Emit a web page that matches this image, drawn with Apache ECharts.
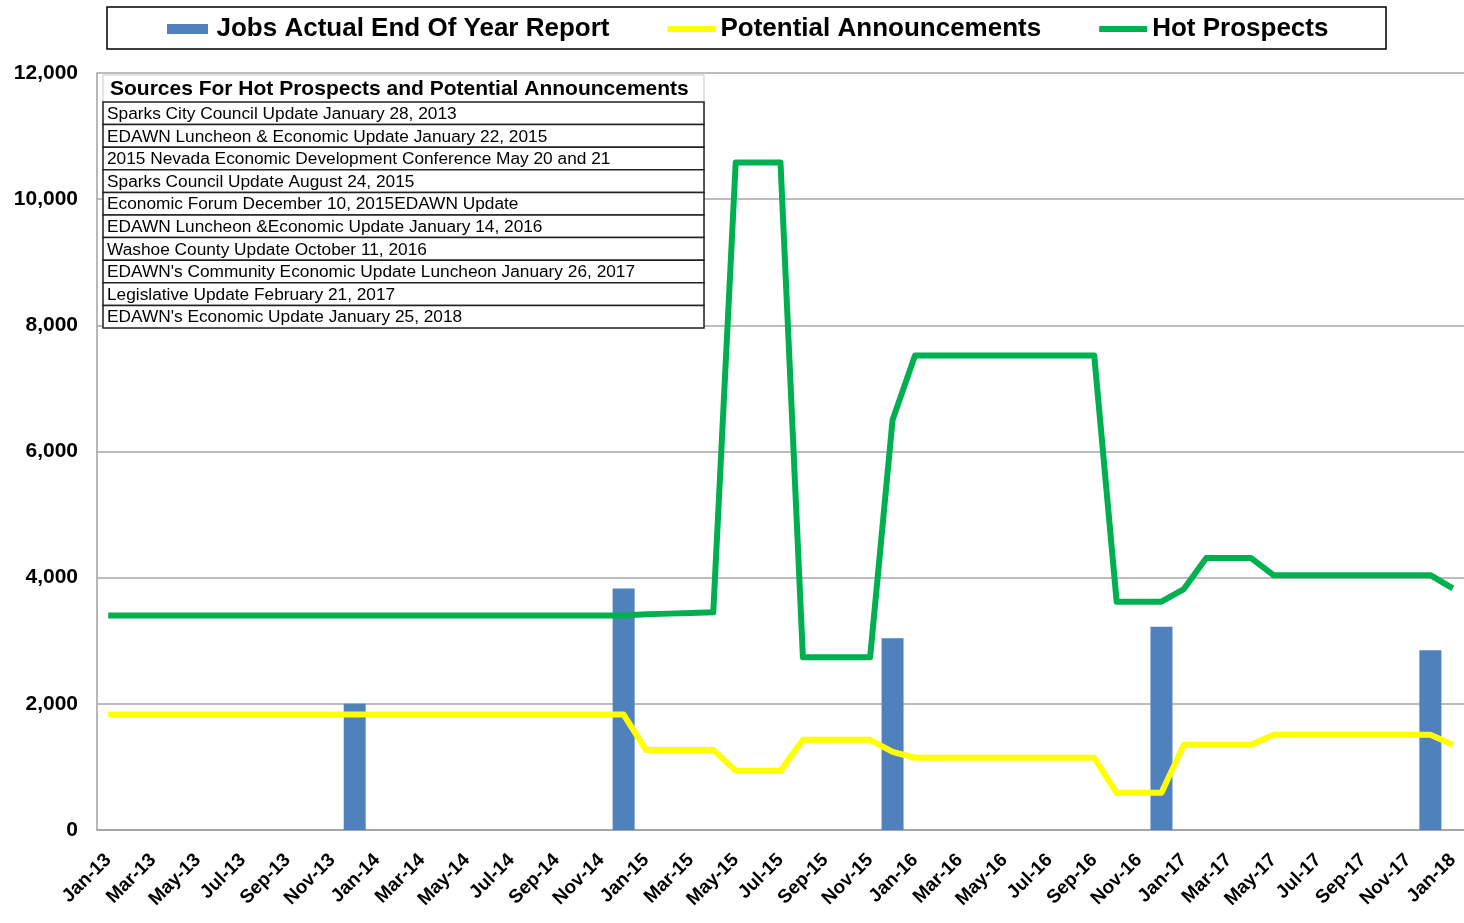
<!DOCTYPE html>
<html>
<head>
<meta charset="utf-8">
<script src="https://cdn.jsdelivr.net/npm/echarts@6/dist/echarts.min.js"></script>
<style>
html,body{margin:0;padding:0;background:#fff;}
#chart{width:1464px;height:923px;}
</style>
</head>
<body>
<div id="chart"></div>
<script>
var months = ['Jan-13','Feb-13','Mar-13','Apr-13','May-13','Jun-13','Jul-13','Aug-13','Sep-13','Oct-13','Nov-13','Dec-13',
'Jan-14','Feb-14','Mar-14','Apr-14','May-14','Jun-14','Jul-14','Aug-14','Sep-14','Oct-14','Nov-14','Dec-14',
'Jan-15','Feb-15','Mar-15','Apr-15','May-15','Jun-15','Jul-15','Aug-15','Sep-15','Oct-15','Nov-15','Dec-15',
'Jan-16','Feb-16','Mar-16','Apr-16','May-16','Jun-16','Jul-16','Aug-16','Sep-16','Oct-16','Nov-16','Dec-16',
'Jan-17','Feb-17','Mar-17','Apr-17','May-17','Jun-17','Jul-17','Aug-17','Sep-17','Oct-17','Nov-17','Dec-17',
'Jan-18'];

var jobsActual = [null,null,null,null,null,null,null,null,null,null,null,2000,
null,null,null,null,null,null,null,null,null,null,null,3830,
null,null,null,null,null,null,null,null,null,null,null,3040,
null,null,null,null,null,null,null,null,null,null,null,3220,
null,null,null,null,null,null,null,null,null,null,null,2850,
null];

var potentialAnnouncements = [1830,1830,1830,1830,1830,1830,1830,1830,1830,1830,1830,1830,
1830,1830,1830,1830,1830,1830,1830,1830,1830,1830,1830,1830,
1270,1270,1270,1270,940,940,940,1430,1430,1430,1430,1240,
1145,1145,1145,1145,1145,1145,1145,1145,1145,590,590,590,
1350,1350,1350,1350,1510,1510,1510,1510,1510,1510,1510,1510,
1350];

var hotProspects = [3400,3400,3400,3400,3400,3400,3400,3400,3400,3400,3400,3400,
3400,3400,3400,3400,3400,3400,3400,3400,3400,3400,3400,3400,
3420,3430,3440,3450,10580,10580,10580,2740,2740,2740,2740,6500,
7520,7520,7520,7520,7520,7520,7520,7520,7520,3620,3620,3620,
3820,4310,4310,4310,4040,4040,4040,4040,4040,4040,4040,4040,
3830];

var seriesNames = ['Jobs Actual End Of Year Report','Potential Announcements','Hot Prospects'];

var tableTitle = 'Sources For Hot Prospects and Potential Announcements';
var sourceLines = [
'Sparks City Council Update January 28, 2013',
'EDAWN Luncheon & Economic Update January 22, 2015',
'2015 Nevada Economic Development Conference May 20 and 21',
'Sparks Council Update August 24, 2015',
'Economic Forum December 10, 2015EDAWN Update',
'EDAWN Luncheon &Economic Update January 14, 2016',
'Washoe County Update October 11, 2016',
"EDAWN's Community Economic Update Luncheon January 26, 2017",
'Legislative Update February 21, 2017',
"EDAWN's Economic Update January 25, 2018"
];

var FONT = '"Liberation Sans", Arial, sans-serif';

// table graphic
var tX = 103, tW = 601, tTop = 75, titleH = 27, rowH = 22.6;
var graphics = [];
graphics.push({type:'rect', shape:{x:tX, y:tTop, width:tW, height:titleH + rowH*sourceLines.length},
  style:{fill:'#fff', stroke:'#c8c8c8', lineWidth:1}, z:100});
graphics.push({type:'text', x:tX+7, y:tTop+titleH/2+1, z:101,
  style:{text:tableTitle, font:'bold 21px ' + FONT, fill:'#000', textVerticalAlign:'middle'}});
for (var i = 0; i < sourceLines.length; i++) {
  var y0 = tTop + titleH + i*rowH;
  graphics.push({type:'rect', shape:{x:tX, y:y0, width:tW, height:rowH},
    style:{fill:'#fff', stroke:'#222', lineWidth:1.5}, z:100});
  graphics.push({type:'text', x:tX+4, y:y0+rowH/2+1, z:101,
    style:{text:sourceLines[i], font:'17.3px ' + FONT, fill:'#000', textVerticalAlign:'middle'}});
}
// legend border
graphics.push({type:'rect', shape:{x:107, y:7, width:1279, height:42},
  style:{fill:'none', stroke:'#000', lineWidth:1.5}, z:50});

var chart = echarts.init(document.getElementById('chart'), null, {renderer:'canvas'});
chart.setOption({
  animation:false,
  backgroundColor:'#fff',
  textStyle:{fontFamily:FONT},
  grid:{left:97, right:0, top:73, bottom:93, containLabel:false},
  legend:{
    left:162, top:11, itemGap:58, itemWidth:48, itemHeight:10,
    textStyle:{fontSize:26, fontWeight:'bold', color:'#000', fontFamily:FONT},
    data:[
      {name:seriesNames[0], icon:'path://M0,0H41V10H0Z'},
      {name:seriesNames[1], icon:'path://M0,0H48V6H0Z'},
      {name:seriesNames[2], icon:'path://M0,0H48V6H0Z'}
    ]
  },
  xAxis:{
    type:'category', data:months, boundaryGap:true,
    axisLine:{lineStyle:{color:'#a0a0a0', width:1.5}},
    axisTick:{show:false},
    axisLabel:{interval:1, rotate:45, margin:27, fontSize:19, fontWeight:'bold', color:'#000', fontFamily:FONT}
  },
  yAxis:{
    type:'value', min:0, max:12000, interval:2000,
    axisLine:{show:true, lineStyle:{color:'#a0a0a0', width:1.5}},
    axisTick:{show:false},
    splitLine:{lineStyle:{color:'#a6a6a6', width:1.5}},
    axisLabel:{margin:19, fontSize:21, fontWeight:'bold', color:'#000', fontFamily:FONT,
      formatter:function(v){return v.toLocaleString('en-US');}}
  },
  series:[
    {name:seriesNames[0], type:'bar', data:jobsActual, barWidth:22, itemStyle:{color:'#4f81bd'}, z:2},
    {name:seriesNames[1], type:'line', data:potentialAnnouncements, showSymbol:false, symbol:'none',
      lineStyle:{color:'#ffff00', width:6, join:'round'}, itemStyle:{color:'#ffff00'}, z:3},
    {name:seriesNames[2], type:'line', data:hotProspects, showSymbol:false, symbol:'none',
      lineStyle:{color:'#00b050', width:6, join:'round'}, itemStyle:{color:'#00b050'}, z:4}
  ],
  graphic:graphics
});
</script>
</body>
</html>
